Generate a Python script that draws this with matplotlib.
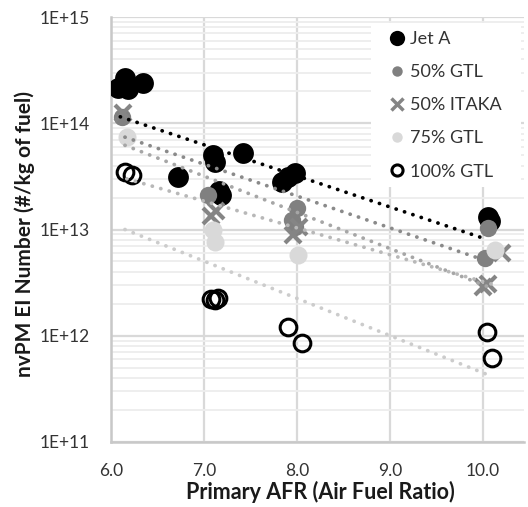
import math
import matplotlib
matplotlib.use("Agg")
import matplotlib.pyplot as plt
from matplotlib.lines import Line2D
from matplotlib.patches import Rectangle
from matplotlib.ticker import FixedLocator, FuncFormatter, LogLocator, NullFormatter

plt.rcParams['font.family'] = ['Lato', 'DejaVu Sans']

# ---- data ----
jet_x = [6.08, 6.18, 6.15, 6.34, 6.72, 7.10, 7.12, 7.16, 7.18, 7.42, 7.84, 7.90, 7.98, 10.05, 10.07]
jet_y = [2.15e14, 2.1e14, 2.65e14, 2.4e14, 3.1e13, 5.0e13, 4.3e13, 2.3e13, 2.1e13, 5.2e13,
         2.8e13, 3.1e13, 3.4e13, 1.3e13, 1.2e13]

gtl50_x = [6.12, 7.04, 8.00, 7.95, 7.98, 10.05, 10.02]
gtl50_y = [1.15e14, 2.1e13, 1.58e13, 1.23e13, 1.05e13, 1.03e13, 5.4e12]

itaka_x = [6.13, 7.08, 7.13, 7.96, 8.02, 10.00, 10.05, 10.20]
itaka_y = [1.25e14, 1.35e13, 1.5e13, 8.9e12, 1.05e13, 2.9e12, 3.1e12, 6.0e12]

gtl75_x = [6.17, 7.10, 7.12, 8.01, 10.13]
gtl75_y = [7.4e13, 9.9e12, 7.6e12, 5.8e12, 6.4e12]

gtl100_x = [6.15, 6.23, 7.08, 7.12, 7.15, 7.90, 8.05, 10.04, 10.10]
gtl100_y = [3.5e13, 3.25e13, 2.2e12, 2.15e12, 2.25e12, 1.2e12, 8.5e11, 1.08e12, 6.2e11]

# trendline end points
trend_jet_x = [6.10, 10.00]
trend_jet_y = [1.15e14, 8.3e12]
trend_gtl50_x = [6.15, 10.00]
trend_gtl50_y = [7.4e13, 5.2e12]
trend_itaka_x = [6.15, 10.05]
trend_itaka_y = [6.2e13, 2.9e12]
trend_gtl75_x = [6.17, 10.13]
trend_gtl75_y = [3.0e13, 3.0e12]
trend_gtl100_x = [6.15, 10.05]
trend_gtl100_y = [1.0e13, 4.3e11]

labels = ["Jet A", "50% GTL", "50% ITAKA", "75% GTL", "100% GTL"]
x_ticks = [6.0, 7.0, 8.0, 9.0, 10.0]
y_ticks = [1e11, 1e12, 1e13, 1e14, 1e15]

# ---- figure ----
W, H = 528, 507
fig = plt.figure(figsize=(W / 100, H / 100), dpi=100)
L, R, T, B = 111, 524, 17, 442
ax = fig.add_axes([L / W, 1 - B / H, (R - L) / W, (B - T) / H])
ax.set_yscale('log')
ax.set_xlim(6.0, 6.0 + (R - L) / 93.0)
ax.set_ylim(1e11, 1e15)

ax.set_axisbelow(True)
ax.xaxis.set_major_locator(FixedLocator(x_ticks))
ax.xaxis.set_major_formatter(FuncFormatter(lambda v, p: f"{v:.1f}"))
ax.yaxis.set_major_locator(FixedLocator(y_ticks))
ax.yaxis.set_major_formatter(FuncFormatter(lambda v, p: "1E+%d" % round(math.log10(v))))
ax.yaxis.set_minor_locator(LogLocator(base=10, subs=range(2, 10)))
ax.yaxis.set_minor_formatter(NullFormatter())

ax.grid(True, which='major', axis='both', color='#d9d9d9', lw=1.6)
ax.grid(True, which='minor', axis='y', color='#ededed', lw=1.3)
ax.tick_params(which='both', length=0)
ax.tick_params(axis='x', pad=15, labelsize=12.5, labelcolor='#333333')
ax.tick_params(axis='y', pad=15, labelsize=12.5, labelcolor='#333333')
for s in ['top', 'right']:
    ax.spines[s].set_visible(False)
for s in ['left', 'bottom']:
    ax.spines[s].set_color('#c8c8c8')
    ax.spines[s].set_linewidth(1.8)

# markers
ax.plot(jet_x, jet_y, 'o', color='black', ms=15, mew=0, zorder=3)
ax.plot(gtl50_x, gtl50_y, 'o', color='#808080', ms=12.5, mew=0, zorder=3.1)
ax.plot(itaka_x, itaka_y, 'x', color='#858585', ms=12, mew=3, zorder=3.2)
ax.plot(gtl75_x, gtl75_y, 'o', color='#d9d9d9', ms=13, mew=0, zorder=3.3)
ax.plot(gtl100_x, gtl100_y, 'o', mfc='none', mec='black', ms=12, mew=2.2, zorder=3.4)

# trend lines
dot = (0, (0.05, 2.3))
kw = dict(lw=2.7, dash_capstyle='round', zorder=4)
ax.plot(trend_jet_x, trend_jet_y, color='black', ls=dot, **kw)
ax.plot(trend_gtl50_x, trend_gtl50_y, color='#8a8a8a', ls=dot, **kw)
ax.plot(trend_itaka_x, trend_itaka_y, color='#a6a6a6', ls=dot, **kw)
ax.plot(trend_gtl75_x, trend_gtl75_y, color='#b8b8b8', ls=dot, **kw)
ax.plot(trend_gtl100_x, trend_gtl100_y, color='#cccccc', ls=dot, **kw)

# axis labels
ax.set_xlabel("Primary AFR (Air Fuel Ratio)", fontsize=15.5, fontweight='bold', color='#1a1a1a')
ax.xaxis.label.set_va('center')
ax.xaxis.set_label_coords((320 - L) / (R - L), (B - 492) / (B - T))
ax.set_ylabel("nvPM EI Number (#/kg of fuel)", fontsize=15, fontweight='bold', color='#1a1a1a')
ax.yaxis.label.set_va('center')
ax.yaxis.set_label_coords((25 - L) / (R - L), (B - 234) / (B - T))

# legend background
ax.add_patch(Rectangle((371 / W, 1 - 187 / H), 150 / W, 164 / H, transform=fig.transFigure,
                       facecolor='white', edgecolor='none', zorder=1.5, clip_on=False))
handles = [
    Line2D([], [], ls='none', marker='o', color='black', ms=11, mew=0),
    Line2D([], [], ls='none', marker='o', color='#808080', ms=7.5, mew=0),
    Line2D([], [], ls='none', marker='x', color='#858585', ms=8.5, mew=2.5),
    Line2D([], [], ls='none', marker='o', color='#d9d9d9', ms=7.5, mew=0),
    Line2D([], [], ls='none', marker='o', mfc='none', mec='black', ms=8, mew=2.2),
]
leg = ax.legend(handles, labels, loc='upper left', bbox_to_anchor=(388 / W, 1 - 31 / H),
                bbox_transform=fig.transFigure, frameon=False, fontsize=13,
                handlelength=1.0, handletextpad=0.2, labelspacing=0.95,
                borderpad=0, borderaxespad=0)
for t in leg.get_texts():
    t.set_color('#333333')

fig.savefig("out.png", dpi=100)
